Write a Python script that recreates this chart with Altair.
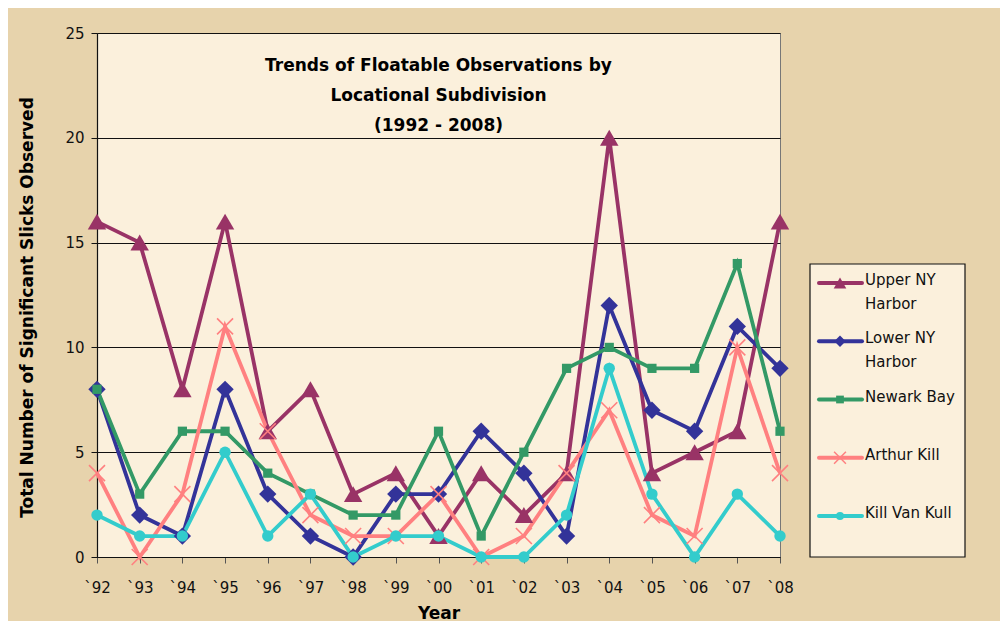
import altair as alt
import pandas as pd

years = ["`92", "`93", "`94", "`95", "`96", "`97", "`98", "`99", "`00",
         "`01", "`02", "`03", "`04", "`05", "`06", "`07", "`08"]

series_names = ["Upper NY Harbor", "Lower NY Harbor", "Newark Bay",
                "Arthur Kill", "Kill Van Kull"]
legend_labels = ["Upper NY\nHarbor", "Lower NY\nHarbor", "Newark Bay",
                 "Arthur Kill", "Kill Van Kull"]

upper_ny = [16, 15, 8, 16, 6, 8, 3, 4, 1, 4, 2, 4, 20, 4, 5, 6, 16]
lower_ny = [8, 2, 1, 8, 3, 1, 0, 3, 3, 6, 4, 1, 12, 7, 6, 11, 9]
newark_bay = [8, 3, 6, 6, 4, 3, 2, 2, 6, 1, 5, 9, 10, 9, 9, 14, 6]
arthur_kill = [4, 0, 3, 11, 6, 2, 1, 1, 3, 0, 1, 4, 7, 2, 1, 10, 4]
kill_van_kull = [2, 1, 1, 5, 1, 3, 0, 1, 1, 0, 0, 2, 9, 3, 0, 3, 1]

colors = ["#993366", "#333399", "#339966", "#FF8080", "#33CCCC"]
x_path = "M-1,-1L1,1M-1,1L1,-1"
shapes = ["triangle-up", "diamond", "square", x_path, "circle"]
filled_flags = [True, True, True, False, True]
marker_sizes = [340, 300, 85, 256, 130]
legend_marker_sizes = [160, 130, 60, 140, 65]

title_text = "Trends of Floatable Observations by\nLocational Subdivision\n(1992 - 2008)"

values = [upper_ny, lower_ny, newark_bay, arthur_kill, kill_van_kull]
rows = []
for name, vals in zip(series_names, values):
    for i, (yr, v) in enumerate(zip(years, vals)):
        rows.append({"Year": yr, "Idx": i, "Series": name, "Value": v})
df = pd.DataFrame(rows)

leg_df = pd.DataFrame({"Series": series_names, "Label": legend_labels,
                       "Order": list(range(len(series_names)))})

FONT = "DejaVu Sans"
W, H = 683, 524

x_enc = alt.X("Year:O", sort=years, title="Year",
              scale=alt.Scale(type="point", padding=0),
              axis=alt.Axis(labelAngle=0, labelFontSize=15, labelColor="#111",
                            labelFont=FONT, labelPadding=17, tickSize=6,
                            tickColor="#555", domainColor="#111", domainWidth=1.2,
                            titleFontSize=17, titleFont=FONT, titleFontWeight="bold",
                            titlePadding=10, titleColor="#000", grid=False))
y_enc = alt.Y("Value:Q", title="Total Number of Significant Slicks Observed",
              scale=alt.Scale(domain=[0, 25], nice=False),
              axis=alt.Axis(values=[0, 5, 10, 15, 20, 25], labelFontSize=15,
                            labelColor="#111", labelFont=FONT, labelPadding=7,
                            tickSize=6, tickColor="#111", domainColor="#111",
                            domainWidth=1.2, grid=True, gridColor="#111",
                            gridWidth=1, titleFontSize=17, titleFont=FONT,
                            titleFontWeight="bold", titlePadding=28,
                            titleColor="#000", titleY=274))
color_enc = alt.Color("Series:N", sort=series_names,
                      scale=alt.Scale(domain=series_names, range=colors),
                      legend=None)

base = alt.Chart(df)
lines = base.mark_line(strokeWidth=3.8).encode(
    x=x_enc, y=y_enc, color=color_enc, detail="Series:N",
    order=alt.Order("Idx:Q"))

point_layers = []
for name, shp, filled, sz in zip(series_names, shapes, filled_flags, marker_sizes):
    point_layers.append(
        base.transform_filter(alt.datum.Series == name).mark_point(
            filled=filled, shape=shp, size=sz, opacity=1,
            strokeWidth=1.6 if not filled else 1).encode(
            x=alt.X("Year:O", sort=years), y="Value:Q", color=color_enc))

title = alt.Chart(pd.DataFrame({"t": [title_text]})).mark_text(
    font=FONT, fontSize=17, fontWeight="bold", color="#000", lineBreak="\n",
    lineHeight=30, baseline="top", align="center").encode(
    text="t:N", x=alt.value(W / 2), y=alt.value(25))

# legend (drawn as marks outside the plot area)
LX0 = 713
leg_box = alt.Chart(pd.DataFrame({"a": [0]})).mark_rect(
    fill="#FBF0DC", stroke="#111", strokeWidth=1.2).encode(
    x=alt.value(LX0), x2=alt.value(LX0 + 155),
    y=alt.value(231), y2=alt.value(524))

leg_y = alt.Y("Order:O", axis=None,
              scale=alt.Scale(type="point", range=[250, 483], padding=0))
leg_color = alt.Color("Series:N", scale=alt.Scale(domain=series_names,
                                                  range=colors), legend=None)
leg_lines = alt.Chart(leg_df).mark_rule(strokeWidth=4, strokeCap="round").encode(
    x=alt.value(LX0 + 9), x2=alt.value(LX0 + 52), y=leg_y, color=leg_color)

leg_point_layers = []
for name, shp, filled, sz in zip(series_names, shapes, filled_flags,
                                 legend_marker_sizes):
    leg_point_layers.append(
        alt.Chart(leg_df).transform_filter(alt.datum.Series == name).mark_point(
            filled=filled, shape=shp, size=sz, opacity=1,
            strokeWidth=1.5 if not filled else 1).encode(
            x=alt.value(LX0 + 30), y=leg_y, color=leg_color))

leg_text = alt.Chart(leg_df).mark_text(
    font=FONT, fontSize=15, color="#111", align="left", baseline="top",
    lineBreak="\n", lineHeight=24, dy=-10).encode(
    x=alt.value(LX0 + 55), y=leg_y, text="Label:N")

main = alt.layer(lines, *point_layers, title)
legend = alt.layer(leg_box, leg_lines, *leg_point_layers, leg_text)

chart = alt.layer(main, legend).resolve_scale(
    y="independent", color="independent"
).properties(
    width=W, height=H,
    background="#E7D3AC",
    padding={"left": 89, "top": 25, "right": 220, "bottom": 64},
    autosize=alt.AutoSizeParams(type="none"),
).configure_view(
    fill="#FBF0DC", stroke="#777", strokeWidth=1
)

chart.save("out.html", embed_options={"renderer": "svg", "actions": False})
